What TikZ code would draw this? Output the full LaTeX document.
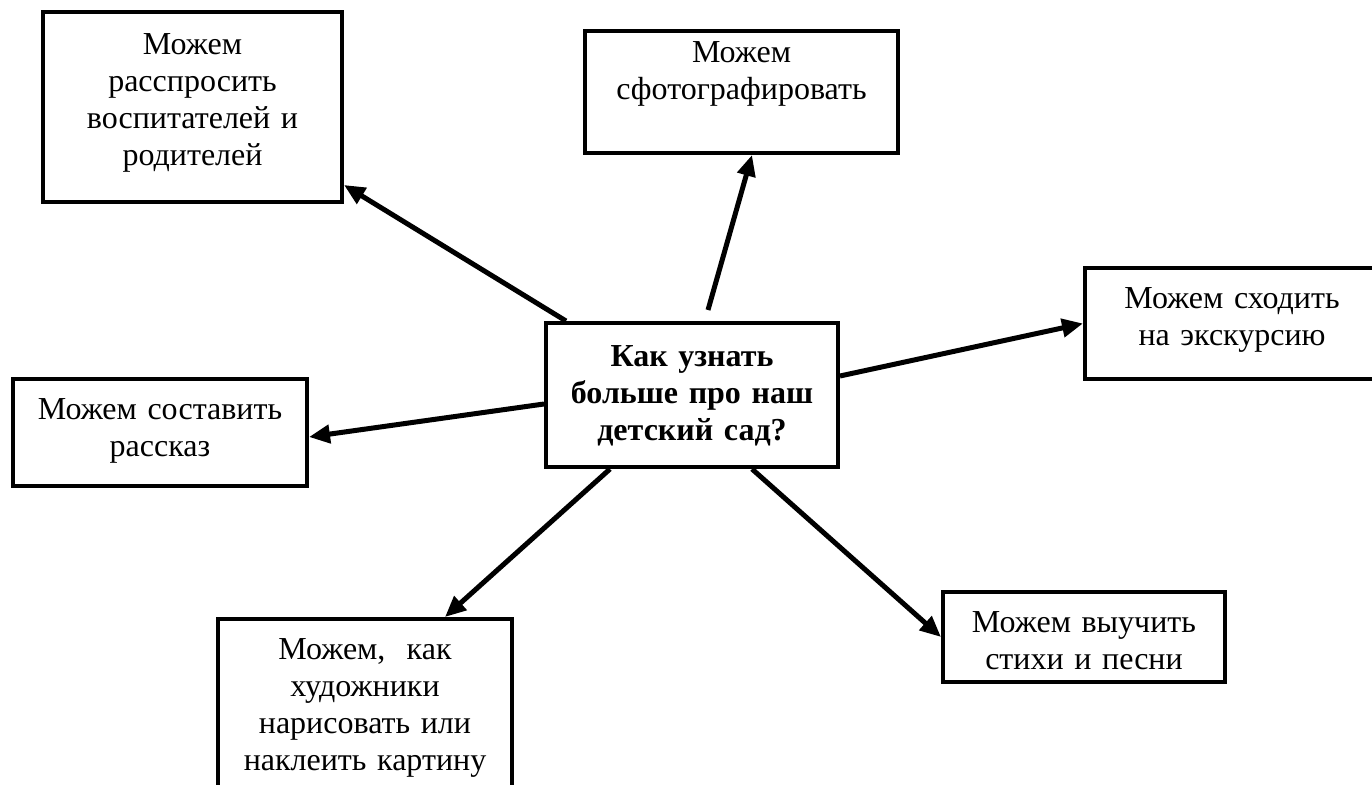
\documentclass[tikz,border=0pt]{standalone}
\usepackage{fontspec}
\setmainfont{Liberation Serif}
\usetikzlibrary{arrows.meta}

\begin{document}
\begin{tikzpicture}[x=0.5pt,y=-0.5pt,
  box/.style={draw, line width=2pt, inner sep=0pt, anchor=base, align=center,
    font=\fontsize{16}{18.35}\selectfont},
  link/.style={line width=2.5pt, -{Triangle[length=10.5pt,width=9pt]}}]
  % Page frame
  \path[use as bounding box, clip] (0,0) rectangle (1372,785);

  % Central question
  \node[box, text width=146pt, text height=22pt, text depth=50pt,
    font=\fontsize{16}{18.35}\selectfont\bfseries] (question) at (692,367)
    {Как узнать\\больше про наш\\детский сад?};

  % Ideas around it
  \node[box, text width=149.5pt, text height=21.5pt, text depth=73.5pt] (ask) at (192.5,55)
    {Можем\\расспросить\\воспитателей и\\родителей};
  \node[box, text width=156.5pt, text height=16pt, text depth=45pt] (photo) at (741.5,63)
    {Можем\\сфотографировать};
  \node[box, text width=147pt, text height=20.5pt, text depth=35pt] (trip) at (1232,309)
    {Можем сходить\\на экскурсию};
  \node[box, text width=147pt, text height=20.5pt, text depth=33pt] (story) at (160,420)
    {Можем составить\\рассказ};
  \node[box, text width=147pt, text height=20.5pt, text depth=70pt] (paint) at (365,660)
    {Можем,\ \ как\\художники\\нарисовать или\\наклеить картину};
  \node[box, text width=141pt, text height=20.5pt, text depth=24.5pt] (learn) at (1084,633)
    {Можем выучить\\стихи и песни};

  % Arrows from the question
  \draw[link] ([xshift=11pt]question.north west) -- ([yshift=9.5pt]ask.south east);
  \draw[link] ([xshift=8pt,yshift=5.5pt]question.north) -- ([xshift=5.25pt]photo.south);
  \draw[link] ([yshift=9.5pt]question.east) -- (trip.west);
  \draw[link] ([yshift=-4.5pt]question.west) -- ([yshift=-2.25pt]story.east);
  \draw[link] ([xshift=33pt]question.south west) -- ([xshift=40pt]paint.north);
  \draw[link] ([xshift=30pt]question.south) -- (learn.west);
\end{tikzpicture}
\end{document}
